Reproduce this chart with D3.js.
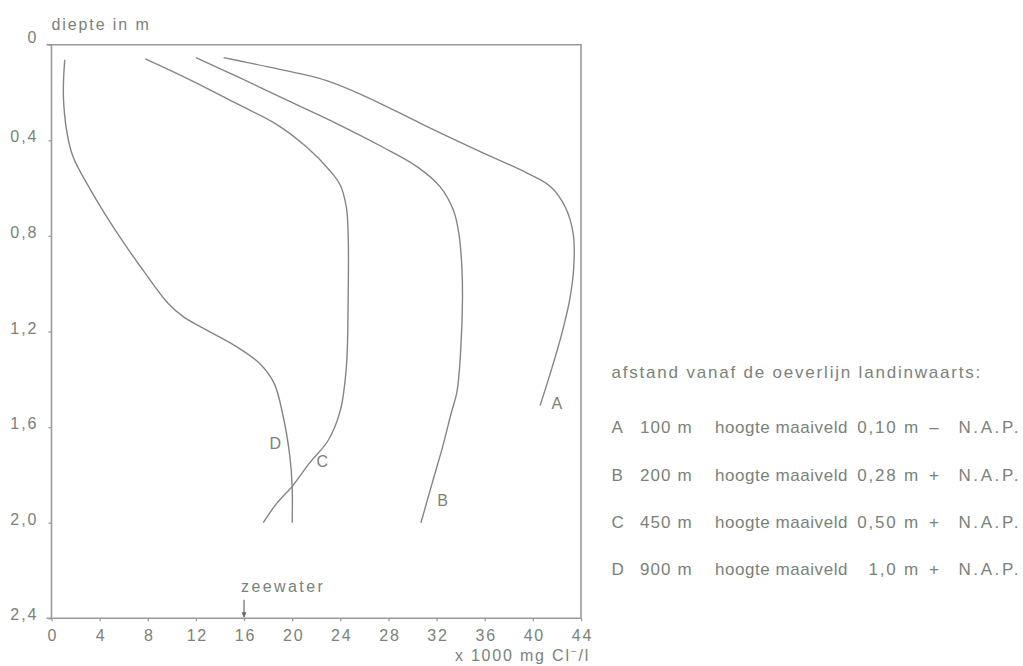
<!DOCTYPE html>
<html>
<head>
<meta charset="utf-8">
<script src="https://cdn.jsdelivr.net/npm/d3@7"></script>
<style>
  html, body { margin: 0; padding: 0; background: #fff; }
  svg { display: block; }
  text { font-family: "Liberation Sans", Arial, sans-serif; fill: #7a827a; }
</style>
</head>
<body>
<svg id="chart" width="1023" height="666" font-size="16"></svg>
<script>
// Chloride content (x 1000 mg Cl-/l) against depth (m) at four distances from the shore line
const profileNames = ["A", "B", "C", "D"];

const chlorideA = [14.3, 18.0, 22.8, 26.2, 30.7, 35.4, 39.6, 41.5, 42.7, 43.35, 43.4, 43.05, 42.4, 41.6, 40.6];
const depthA    = [0.054, 0.093, 0.149, 0.219, 0.33, 0.442, 0.539, 0.595, 0.68, 0.79, 0.93, 1.07, 1.21, 1.35, 1.51];

const chlorideB = [12.0, 15.5, 19.6, 23.7, 27.5, 30.4, 32.3, 33.4, 33.85, 34.1, 34.15, 34.0, 33.7, 33.2, 32.5, 31.7, 30.7];
const depthB    = [0.054, 0.135, 0.233, 0.33, 0.428, 0.511, 0.595, 0.693, 0.79, 0.93, 1.07, 1.28, 1.45, 1.544, 1.683, 1.823, 2.0];

const chlorideC = [7.8, 11.6, 15.4, 18.6, 21.2, 23.1, 24.0, 24.5, 24.65, 24.65, 24.5, 24.0, 23.0, 21.4, 20.0, 18.7, 17.6];
const depthC    = [0.059, 0.149, 0.247, 0.33, 0.428, 0.525, 0.588, 0.68, 0.79, 1.07, 1.35, 1.53, 1.655, 1.753, 1.848, 1.92, 2.0];

const chlorideD = [1.1, 1.0, 1.0, 1.3, 1.8, 3.1, 5.3, 7.8, 9.7, 11.0, 12.9, 15.4, 17.3, 18.5, 19.2, 19.8, 20.0, 20.0];
const depthD    = [0.063, 0.15, 0.233, 0.372, 0.47, 0.595, 0.776, 0.957, 1.083, 1.14, 1.194, 1.264, 1.334, 1.417, 1.543, 1.72, 1.85, 2.0];

// where each curve letter sits (chloride, depth)
const labelChloride = [42.0, 32.5, 22.5, 18.6];
const labelDepth    = [1.50, 1.905, 1.745, 1.67];

// axis ticks
const xTicks = [0, 4, 8, 12, 16, 20, 24, 28, 32, 36, 40, 44];
const yTicks = [0, 0.4, 0.8, 1.2, 1.6, 2.0, 2.4];
const yTickLabels = ["0", "0,4", "0,8", "1,2", "1,6", "2,0", "2,4"];

// sea water reference
const seaWaterChloride = 16;
const seaWaterLabel = "zeewater";

// legend
const legendTitle = "afstand vanaf de oeverlijn landinwaarts:";
const legendDistance = ["100 m", "200 m", "450 m", "900 m"];
const legendHeight = ["0,10 m", "0,28 m", "0,50 m", "1,0 m"];
const legendSign = ["\u2013", "+", "+", "+"];

const series = [
  { name: "A", x: chlorideA, y: depthA },
  { name: "B", x: chlorideB, y: depthB },
  { name: "C", x: chlorideC, y: depthC },
  { name: "D", x: chlorideD, y: depthD }
];

const svg = d3.select("#chart");
const plotLeft = 51.5, plotRight = 581, plotTop = 44.7, plotBottom = 618.3;

const x = d3.scaleLinear().domain([0, 44]).range([plotLeft, plotRight]);
const y = d3.scaleLinear().domain([0, 2.4]).range([plotTop, plotBottom]);

const axisColor = "#9a9a9a";
const lineColor = "#858585";
const textColor = "#7a827a";
const fontFamily = "Liberation Sans, Arial, sans-serif";

// frame: top and right border
svg.append("path")
  .attr("d", `M${plotLeft - 5},${plotTop}H${plotRight}V${plotBottom}`)
  .attr("fill", "none").attr("stroke", axisColor).attr("stroke-width", 1.6);

// x axis
const xAxis = d3.axisBottom(x).tickValues(xTicks).tickSize(3).tickPadding(8).tickFormat(d3.format("d"));
const gx = svg.append("g").attr("transform", `translate(0,${plotBottom})`).call(xAxis);
gx.attr("font-size", 16).attr("font-family", fontFamily);
gx.select(".domain").attr("d", `M${plotLeft - 5},0H${plotRight}`).attr("stroke", axisColor).attr("stroke-width", 1.6);
gx.selectAll(".tick line").attr("stroke", axisColor).attr("stroke-width", 1.3);
gx.selectAll(".tick text").attr("letter-spacing", 1.8).attr("dx", "0.06em").style("fill", textColor);

// y axis
const yAxis = d3.axisLeft(y).tickValues(yTicks).tickSize(3).tickPadding(10)
  .tickFormat((d, i) => yTickLabels[i]);
const gy = svg.append("g").attr("transform", `translate(${plotLeft},0)`).call(yAxis);
gy.attr("font-size", 16).attr("font-family", fontFamily);
gy.select(".domain").attr("d", `M0,${plotTop}V${plotBottom}`).attr("stroke", axisColor).attr("stroke-width", 1.6);
gy.selectAll(".tick line").attr("stroke", axisColor).attr("stroke-width", 1.3);
gy.selectAll(".tick text").attr("letter-spacing", 2).attr("dy", "0.1em").style("fill", textColor);
gy.selectAll(".tick").filter(d => d === 0).select("text").attr("dy", "-0.15em");

// axis titles
svg.append("text").attr("x", plotLeft).attr("y", 30)
  .attr("letter-spacing", 1.9).text("diepte in m");

const xt = svg.append("text").attr("x", plotRight + 9).attr("y", 661)
  .attr("text-anchor", "end").attr("letter-spacing", 1.8);
xt.append("tspan").text("x 1000 mg Cl");
xt.append("tspan").attr("dy", -6).attr("font-size", 10).text("\u2212");
xt.append("tspan").attr("dy", 6).text("/l");

// profiles
const line = d3.line()
  .x(d => x(d[0]))
  .y(d => y(d[1]))
  .curve(d3.curveCatmullRom.alpha(0.5));

svg.append("g").selectAll("path")
  .data(series)
  .join("path")
  .attr("d", s => line(s.x.map((v, i) => [v, s.y[i]])))
  .attr("fill", "none")
  .attr("stroke", lineColor)
  .attr("stroke-width", 1.4);

svg.append("g").selectAll("text")
  .data(profileNames)
  .join("text")
  .attr("x", (d, i) => x(labelChloride[i]))
  .attr("y", (d, i) => y(labelDepth[i]))
  .attr("dy", "0.35em")
  .attr("text-anchor", "middle")
  .text(d => d);

// sea water arrow
const sx = x(seaWaterChloride);
svg.append("line")
  .attr("x1", sx).attr("x2", sx)
  .attr("y1", y(2.322)).attr("y2", y(2.395))
  .attr("stroke", "#6a6a6a").attr("stroke-width", 1.2);
svg.append("path")
  .attr("d", `M${sx - 2.5},${y(2.375)}L${sx},${y(2.398)}L${sx + 2.5},${y(2.375)}Z`)
  .attr("fill", "#6a6a6a");
svg.append("text").attr("x", x(15.75)).attr("y", y(2.268)).attr("dy", "0.35em")
  .attr("letter-spacing", 2.4).text(seaWaterLabel);

// legend
const lx = 611.5;
const legend = svg.append("g").attr("font-size", 17);
legend.append("text").attr("x", lx).attr("y", 372).attr("dy", "0.35em")
  .attr("letter-spacing", 1.8).text(legendTitle);

const rows = legend.append("g").selectAll("g")
  .data(profileNames)
  .join("g")
  .attr("transform", (d, i) => `translate(0,${427.3 + i * 47.4})`);

rows.append("text").attr("x", lx).attr("dy", "0.35em").text(d => d);
rows.append("text").attr("x", 640).attr("dy", "0.35em").attr("letter-spacing", 1.1)
  .text((d, i) => legendDistance[i]);
rows.append("text").attr("x", 715).attr("dy", "0.35em").attr("letter-spacing", 0.55)
  .text("hoogte maaiveld");
rows.append("text").attr("x", 920).attr("dy", "0.35em").attr("letter-spacing", 1.8)
  .attr("text-anchor", "end").text((d, i) => legendHeight[i]);
rows.append("text").attr("x", 934).attr("dy", "0.35em")
  .attr("text-anchor", "middle").text((d, i) => legendSign[i]);
rows.append("text").attr("x", 1021).attr("dy", "0.35em").attr("letter-spacing", 2.6)
  .attr("text-anchor", "end").text("N.A.P.");
</script>
</body>
</html>
